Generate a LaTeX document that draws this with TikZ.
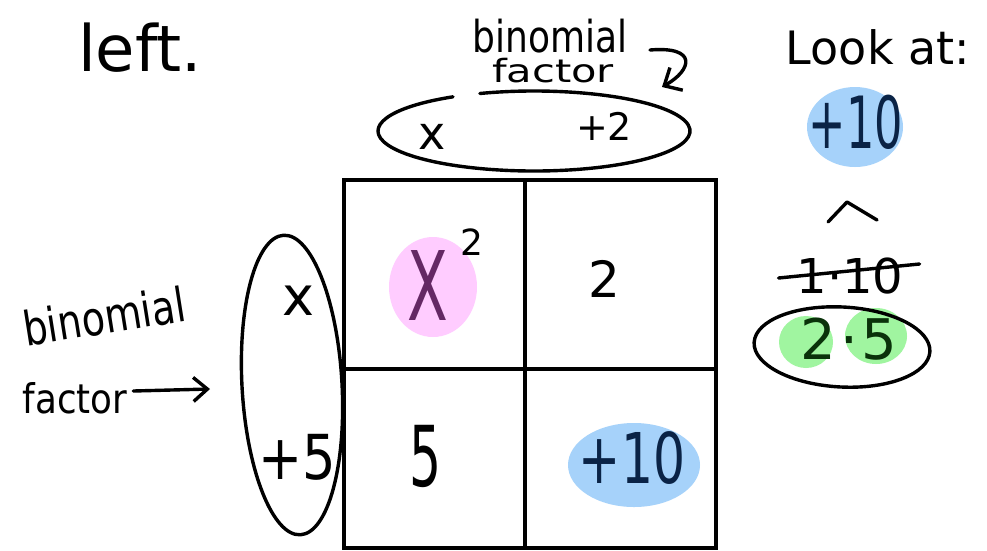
\documentclass[tikz,border=0pt]{standalone}
\usepackage{fontspec}
\setmainfont{DejaVu Sans}
\usetikzlibrary{arrows.meta}
\definecolor{pinkfill}{RGB}{255,204,255}
\definecolor{bluefill}{RGB}{166,210,250}
\definecolor{greenfill}{RGB}{160,245,160}
\definecolor{purpletext}{RGB}{100,40,100}
\definecolor{navytext}{RGB}{10,35,70}
\definecolor{greentext}{RGB}{10,50,10}
\newcommand{\fsz}[1]{\fontsize{#1}{#1}\selectfont}
\begin{document}
\begin{tikzpicture}[x=1pt,y=-1pt,
  ink/.style={line width=3.4pt, line cap=round, line join=round},
  gridline/.style={line width=3.2pt},
  txt/.style={inner sep=0pt, outer sep=0pt}]
\useasboundingbox[fill=white] (0,0) rectangle (987,550);

% blobs
\fill[pinkfill] (433,287) ellipse [x radius=44, y radius=50];
\fill[bluefill] (634,465) ellipse [x radius=66, y radius=42];
\fill[bluefill] (855,127) ellipse [x radius=48, y radius=40];
\fill[greenfill] (806,342) ellipse [x radius=27, y radius=26];
\fill[greenfill] (876,336) ellipse [x radius=31, y radius=28];

% grid
\draw[gridline] (344,180) rectangle (716,548);
\draw[gridline] (525,180) -- (525,548);
\draw[gridline] (344,369) -- (716,369);

% top-left
\node[txt] (left) at (140,48) {\fsz{64}left.};

% top binomial factor
\node[txt] (tbin) at (550,36) {\scalebox{0.9}[1.1]{\fsz{40}binomial}};
\node[txt] (tfac) at (553,71) {\scalebox{1.3}[1]{\fsz{32}factor}};
\coordinate (hookS) at (650,50);
\coordinate (hookE) at (662,87);
\draw[ink, -{Straight Barb[length=14pt,width=26pt]}] (hookS) .. controls (698,46) and (692,70) .. (hookE);
\draw[ink] (534,131) ++(249.7:156 and 40) arc[start angle=249.7, end angle=598.7, x radius=156, y radius=40];
\node[txt] (tx) at (432,137) {\fsz{46}x};
\node[txt] (t2) at (604,126) {\fsz{38}+2};

% left binomial factor
\node[txt, rotate=9] (lbin) at (104,316) {\scalebox{1}[1.25]{\fsz{38}binomial}};
\node[txt] (lfac) at (75,398) {\scalebox{1.05}[1.2]{\fsz{34}factor}};
\coordinate (larr) at (210,389);
\draw[ink, -{Straight Barb[length=14pt,width=24pt]}] (lfac.east) ++(6,-7) -- (larr);
\draw[ink, rotate around={3.2:(292,385)}] (292,385) ellipse [x radius=50, y radius=150];
\node[txt] (lx) at (298,301) {\fsz{54}x};
\node[txt] (l5) at (297,457) {\scalebox{0.85}[1]{\fsz{62}+5}};

% cells
\node[txt, purpletext] (xsq) at (428,285) {\scalebox{0.62}[1]{\fsz{96}X}};
\node[txt] (sup) at (472,242) {\fsz{36}2};
\node[txt] (c2) at (604,279) {\fsz{50}2};
\node[txt] (c5) at (426,456) {\scalebox{0.6}[1]{\fsz{84}5}};
\node[txt, navytext] (c10) at (632,458) {\scalebox{0.72}[1]{\fsz{70}+10}};

% right column
\node[txt] (look) at (878,47) {\fsz{46}Look at:};
\node[txt, navytext] (r10) at (856,122) {\scalebox{0.62}[1]{\fsz{72}+10}};
\draw[ink] (828,222) -- (847,202) -- (877,220);
\node[txt] (r110) at (850,276) {\fsz{48}1·10};
\draw[ink] (r110.west) ++(-18,2) -- ++(141,-14);
\draw[ink, rotate around={-3:(842,347)}] (842,347) ellipse [x radius=88, y radius=40];
\node[txt, greentext] (r25) at (849,339) {\fsz{56}2\hspace{4pt}·\hspace{4pt}5};
\end{tikzpicture}
\end{document}
